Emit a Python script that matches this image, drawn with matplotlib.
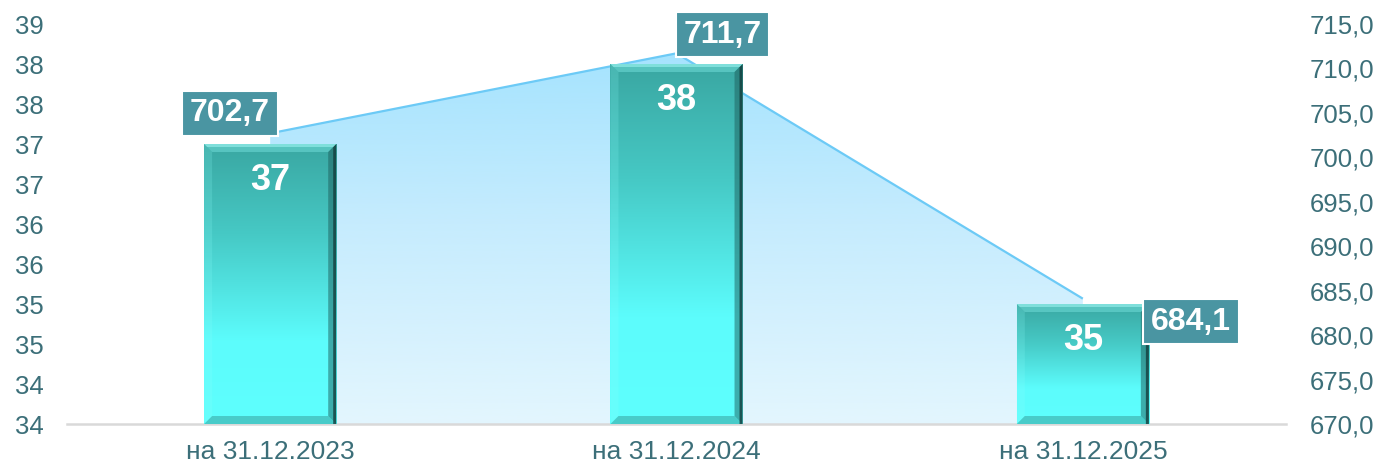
import numpy as np
import matplotlib
matplotlib.use('Agg')
import matplotlib.pyplot as plt
from matplotlib.colors import LinearSegmentedColormap
from matplotlib.patches import Polygon

plt.rcParams['font.family'] = ['Liberation Sans', 'DejaVu Sans']

# ---------------- data ----------------
categories = ['на 31.12.2023', 'на 31.12.2024', 'на 31.12.2025']
bar_values = [37.5, 38.5, 35.5]
bar_labels = ['37', '38', '35']
area_values = [702.7, 711.7, 684.1]
area_labels = ['702,7', '711,7', '684,1']
left_ticks = [34, 34.5, 35, 35.5, 36, 36.5, 37, 37.5, 38, 38.5, 39]
left_tick_labels = ['34', '34', '35', '35', '36', '36', '37', '37', '38', '38', '39']
right_ticks = [670, 675, 680, 685, 690, 695, 700, 705, 710, 715]
right_tick_labels = ['670,0', '675,0', '680,0', '685,0', '690,0', '695,0',
                     '700,0', '705,0', '710,0', '715,0']

# ---------------- styles ----------------
W, H = 1385, 467
tick_color = '#3c6f79'
box_color = '#4a95a2'

fig = plt.figure(figsize=(W / 100, H / 100), dpi=100)
ax = fig.add_axes([67 / W, 43 / H, 1219 / W, 400 / H])
ax2 = ax.twinx()
ax.set_zorder(ax2.get_zorder() + 1)
ax.patch.set_visible(False)

x = np.arange(len(categories))
ymin, ymax = left_ticks[0], left_ticks[-1]
rmin, rmax = right_ticks[0], right_ticks[-1]

ax.set_xlim(-0.5, len(categories) - 0.5)
ax.set_ylim(ymin, ymax)
ax2.set_ylim(rmin, rmax)

# ---------------- area (secondary axis) ----------------
verts = [(x[0], rmin)] + list(zip(x, area_values)) + [(x[-1], rmin)]
area_patch = Polygon(verts, closed=True, fc='none', ec='none', transform=ax2.transData)
ax2.add_patch(area_patch)
area_cmap = LinearSegmentedColormap.from_list('area', ['#e3f6fe', '#c6ecfe', '#a0e2fe'])
grad = np.linspace(0, 1, 256).reshape(-1, 1)
im = ax2.imshow(grad, extent=(x[0], x[-1], rmin, rmax), origin='lower', cmap=area_cmap,
                aspect='auto', zorder=1, interpolation='bicubic')
im.set_clip_path(area_patch)
ax2.plot(x, area_values, color='#6ccaf6', lw=1.6, zorder=2, solid_capstyle='butt')
ax2.set_xlim(-0.5, len(categories) - 0.5)
ax2.set_ylim(rmin, rmax)

# ---------------- bars (primary axis) ----------------
bars = ax.bar(x, np.array(bar_values) - ymin, bottom=ymin, width=0.325,
              color='none', edgecolor='none', zorder=3)
bar_cmap = LinearSegmentedColormap.from_list(
    'bar', [(0.0, '#5efffe'), (0.3, '#5cfcfc'), (0.68, '#46c9c5'), (1.0, '#3aa7a2')])

fig.canvas.draw()
inv = ax.transData.inverted()
p0 = inv.transform((0, 0))


def px(dx, dy):
    p1 = inv.transform((dx, dy))
    return p1[0] - p0[0], p1[1] - p0[1]


bx, by = px(8, 8)
lx, ly = px(3, 3)

for b in bars:
    x0, y0, w, h = b.get_x(), b.get_y(), b.get_width(), b.get_height()
    x1, y1 = x0 + w, y0 + h
    bim = ax.imshow(grad, extent=(x0, x1, y0, y1), origin='lower', cmap=bar_cmap,
                    aspect='auto', zorder=3, interpolation='bicubic')
    bim.set_clip_path(b)
    # bevels
    top = [(x0, y1), (x1, y1), (x1 - bx, y1 - by), (x0 + bx, y1 - by)]
    left = [(x0, y0), (x0, y1), (x0 + bx, y1 - by), (x0 + bx, y0 + by)]
    right = [(x1, y0), (x1, y1), (x1 - bx, y1 - by), (x1 - bx, y0 + by)]
    bottom = [(x0, y0), (x1, y0), (x1 - bx, y0 + by), (x0 + bx, y0 + by)]
    ax.add_patch(Polygon(top, closed=True, fc='#74e0dc', ec='none', alpha=0.5, zorder=4))
    ax.add_patch(Polygon(left, closed=True, fc='#8ffffc', ec='none', alpha=0.18, zorder=4))
    ax.add_patch(Polygon(right, closed=True, fc='#1d5e5c', ec='none', alpha=0.5, zorder=4))
    ax.add_patch(Polygon(bottom, closed=True, fc='#2f8e8a', ec='none', alpha=0.45, zorder=4))
    # dark outer right edge
    ax.add_patch(Polygon([(x1, y0), (x1, y1), (x1 - lx, y1 - ly), (x1 - lx, y0)], closed=True,
                         fc='#133e3d', ec='none', alpha=0.8, zorder=4))
    # light top highlight line
    ax.add_patch(Polygon([(x0, y1), (x1, y1), (x1 - lx, y1 - ly), (x0 + lx, y1 - ly)], closed=True,
                         fc='#9af2ee', ec='none', alpha=0.6, zorder=4))

for b, lbl in zip(bars, bar_labels):
    ax.annotate(lbl, xy=(b.get_x() + b.get_width() / 2, b.get_y() + b.get_height()),
                xytext=(0, -26), textcoords='offset points', ha='center', va='center',
                color='white', fontsize=26, fontweight='bold', zorder=6)

# ---------------- area labels ----------------
offsets = [(-29, 14.5), (33, 13.5), (78, -16.5)]
for xi, val, lbl, off in zip(x, area_values, area_labels, offsets):
    ax.annotate(lbl, xy=(xi, val), xycoords=ax2.transData, xytext=off,
                textcoords='offset points', ha='center', va='center',
                color='white', fontsize=23, fontweight='bold', zorder=7,
                bbox=dict(boxstyle='square,pad=0.24', fc=box_color, ec='white', lw=1.5))

# ---------------- axes styling ----------------
for a in (ax, ax2):
    for s in a.spines.values():
        s.set_visible(False)
ax.spines['bottom'].set_visible(True)
ax.spines['bottom'].set_color('#d9d9d9')
ax.spines['bottom'].set_linewidth(1.8)
ax.spines['bottom'].set_zorder(2)

ax.set_xticks(x)
ax.set_xticklabels(categories)
ax.set_yticks(left_ticks)
ax.set_yticklabels(left_tick_labels)
ax2.set_yticks(right_ticks)
ax2.set_yticklabels(right_tick_labels)

ax.tick_params(axis='y', length=0, pad=17, labelsize=18.5, labelcolor=tick_color)
ax.tick_params(axis='x', length=0, pad=11.5, labelsize=19, labelcolor=tick_color)
ax2.tick_params(axis='y', length=0, pad=17, labelsize=18.5, labelcolor=tick_color)

fig.savefig('out.png', dpi=100, facecolor='white')
